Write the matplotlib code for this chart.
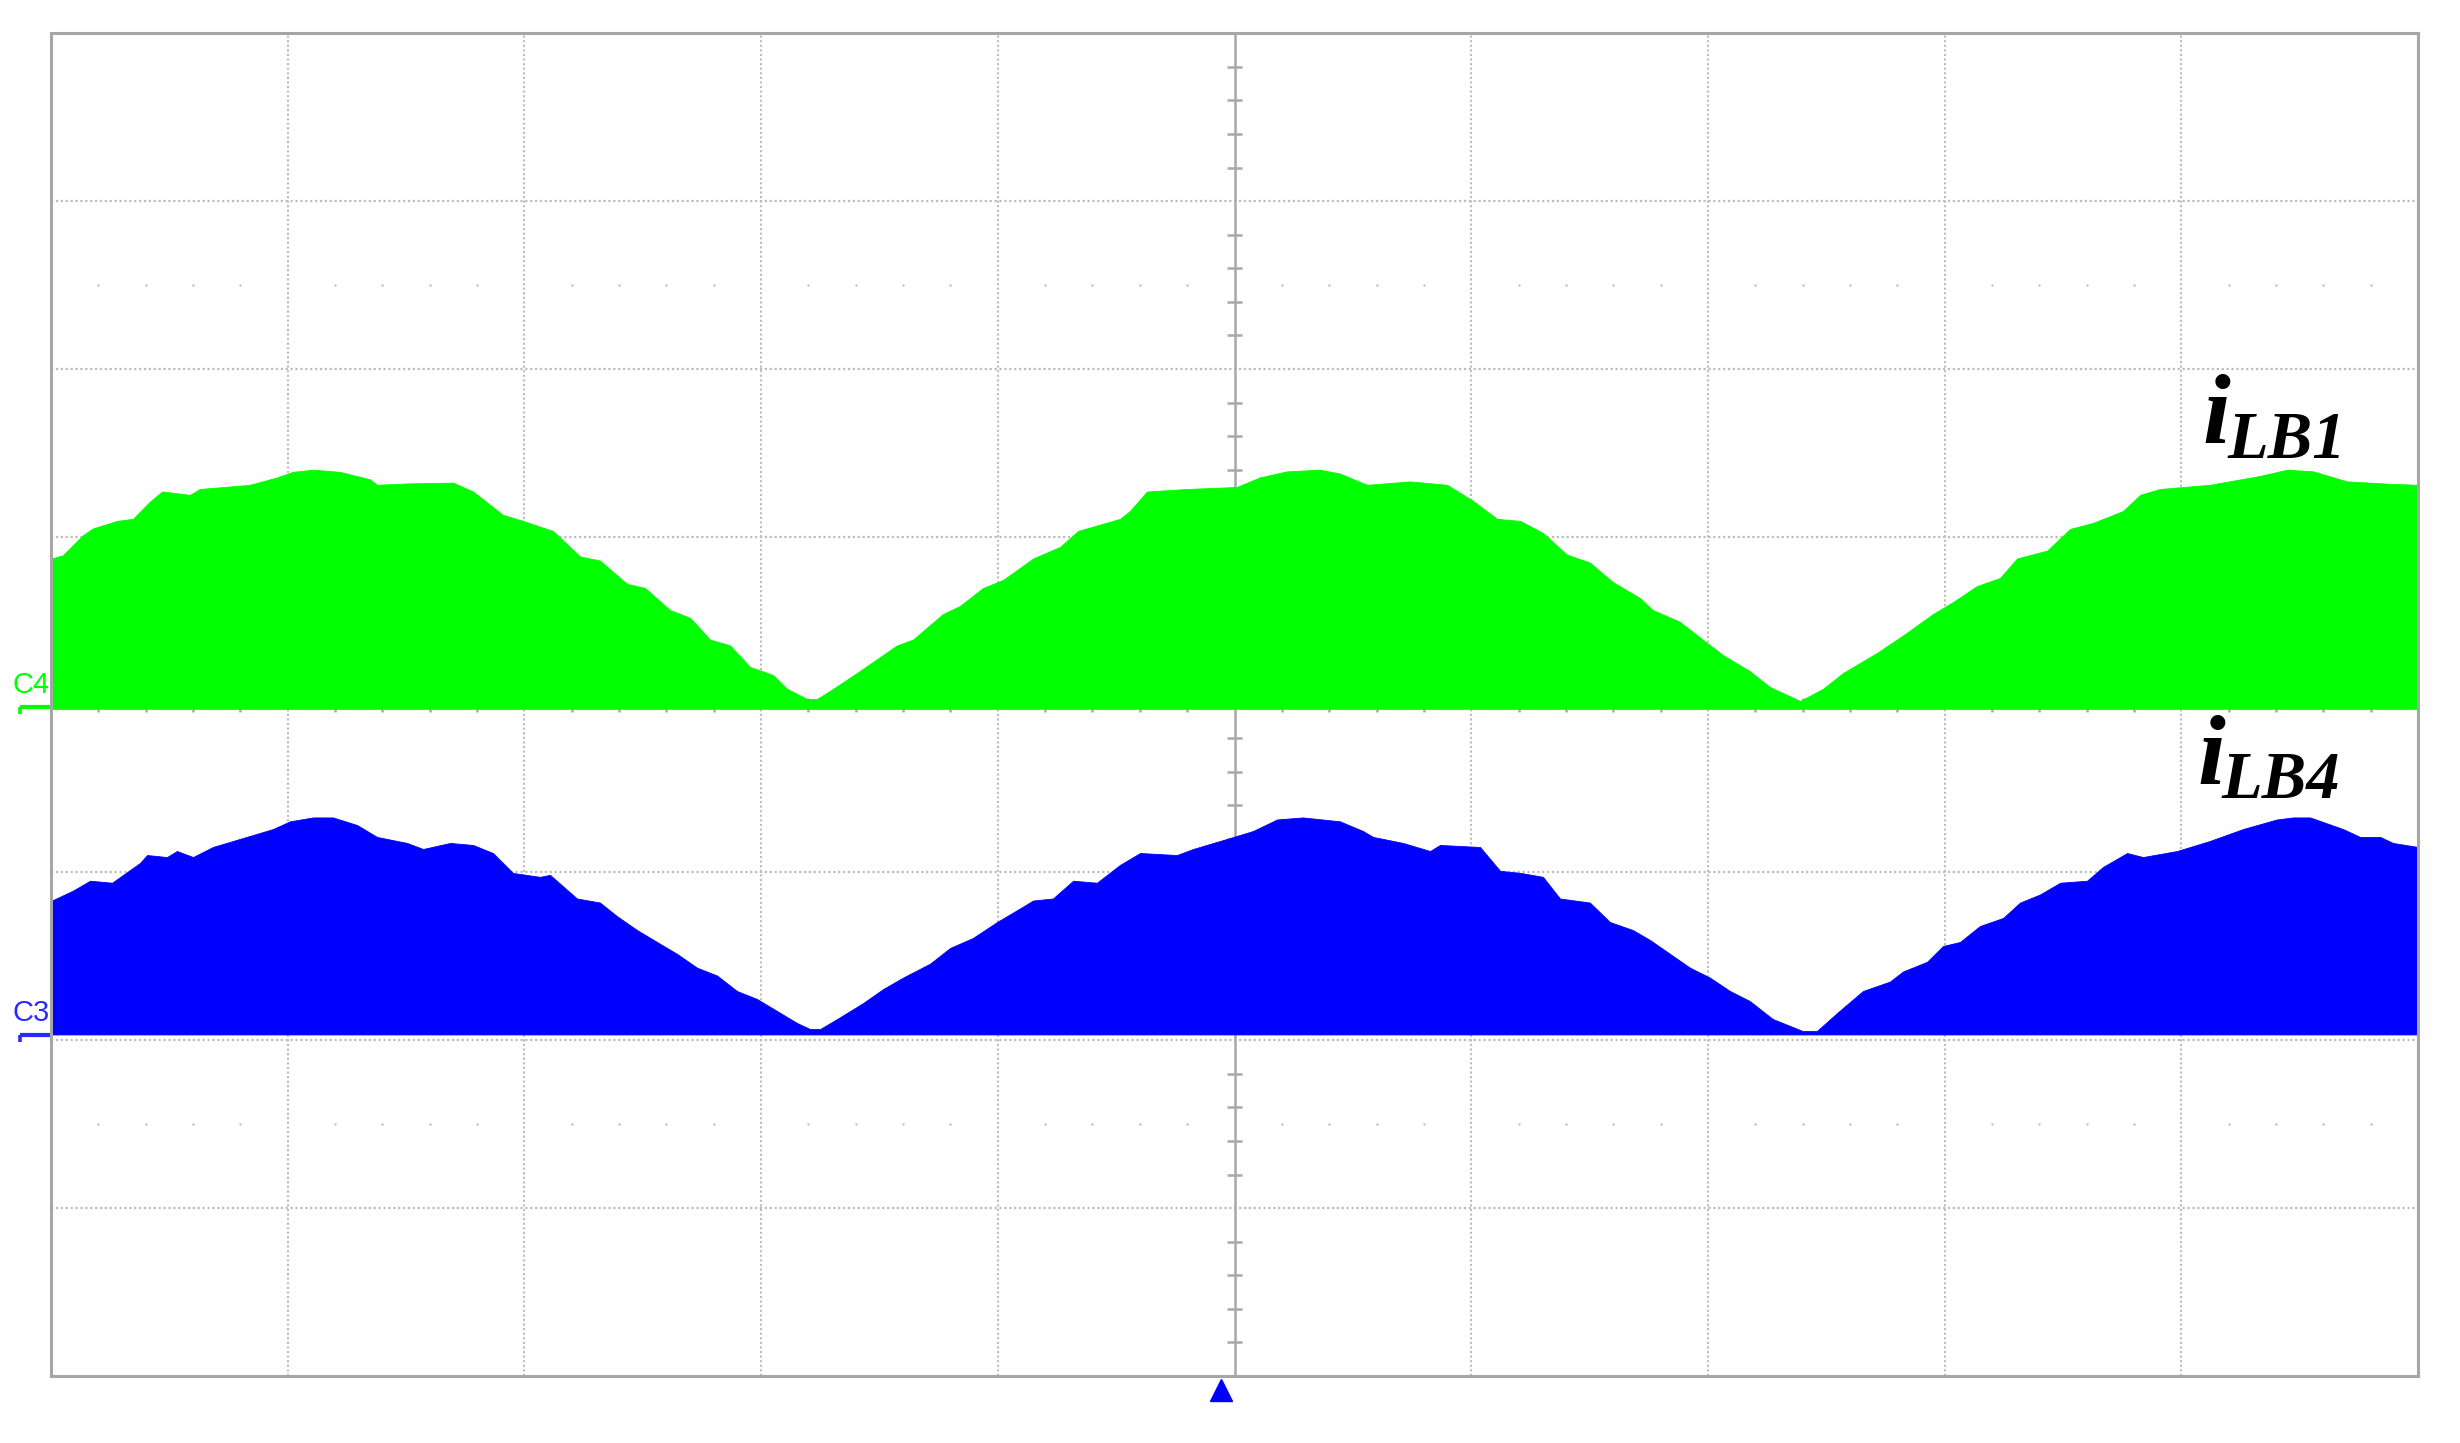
import numpy as np
import matplotlib
matplotlib.use("Agg")
import matplotlib.pyplot as plt
from matplotlib.transforms import blended_transform_factory

# ---------------- data (screen divisions; x: 0..10 div, y: -4..4 div) ----------------
c4_ground = -0.015   # channel 4 (green) ground level
c3_ground = -1.97    # channel 3 (blue) ground level

ilb1_t = [0.00, 0.05, 0.135, 0.177, 0.279, 0.346, 0.418, 0.469, 0.587, 0.629,
          0.841, 0.955, 1.022, 1.107, 1.221, 1.348, 1.377, 1.504, 1.698, 1.783,
          1.91, 1.994, 2.066, 2.121, 2.235, 2.319, 2.433, 2.51, 2.615, 2.70,
          2.784, 2.869, 2.953, 3.05, 3.11, 3.194, 3.236, 3.291, 3.405, 3.574,
          3.642, 3.768, 3.84, 3.937, 4.022, 4.094, 4.149, 4.263, 4.339, 4.516,
          4.558, 4.63, 4.799, 5.01, 5.107, 5.221, 5.361, 5.445, 5.56, 5.741,
          5.898, 6.008, 6.109, 6.206, 6.303, 6.404, 6.501, 6.598, 6.712, 6.767,
          6.881, 6.978, 7.063, 7.177, 7.262, 7.389, 7.486, 7.571, 7.714, 7.824,
          7.951, 8.036, 8.137, 8.234, 8.306, 8.433, 8.53, 8.627, 8.754, 8.826,
          8.91, 9.121, 9.333, 9.447, 9.557, 9.70, 9.894, 10.0]
ilb1_top = [0.87, 0.89, 1.01, 1.05, 1.095, 1.107, 1.21, 1.27, 1.25, 1.285,
            1.31, 1.354, 1.387, 1.40, 1.387, 1.342, 1.31, 1.318, 1.323, 1.27,
            1.13, 1.095, 1.06, 1.035, 0.883, 0.859, 0.72, 0.695, 0.564, 0.517,
            0.388, 0.353, 0.225, 0.177, 0.094, 0.034, 0.034, 0.082, 0.189, 0.353,
            0.388, 0.54, 0.588, 0.695, 0.743, 0.815, 0.871, 0.94, 1.035, 1.107,
            1.154, 1.27, 1.285, 1.297, 1.354, 1.39, 1.40, 1.377, 1.31, 1.33,
            1.31, 1.214, 1.107, 1.095, 1.023, 0.894, 0.847, 0.731, 0.636, 0.564,
            0.494, 0.388, 0.296, 0.20, 0.105, 0.022, 0.094, 0.189, 0.308, 0.412,
            0.54, 0.612, 0.707, 0.755, 0.871, 0.918, 1.047, 1.083, 1.154, 1.25,
            1.285, 1.31, 1.363, 1.40, 1.39, 1.33, 1.315, 1.31]

ilb4_t = [0.004, 0.093, 0.165, 0.258, 0.376, 0.406, 0.49, 0.532, 0.60, 0.684,
          0.798, 0.938, 1.01, 1.107, 1.191, 1.293, 1.377, 1.504, 1.572, 1.686,
          1.783, 1.867, 1.952, 2.066, 2.108, 2.222, 2.319, 2.391, 2.476, 2.56,
          2.645, 2.729, 2.814, 2.898, 2.983, 3.067, 3.152, 3.207, 3.249, 3.321,
          3.431, 3.515, 3.60, 3.714, 3.798, 3.895, 3.997, 4.094, 4.149, 4.233,
          4.318, 4.419, 4.516, 4.601, 4.757, 4.825, 4.968, 5.078, 5.18, 5.289,
          5.445, 5.543, 5.585, 5.712, 5.826, 5.868, 6.037, 6.122, 6.206, 6.303,
          6.375, 6.501, 6.586, 6.683, 6.755, 6.84, 6.924, 7.008, 7.093, 7.177,
          7.274, 7.359, 7.401, 7.46, 7.545, 7.655, 7.769, 7.824, 7.926, 7.993,
          8.065, 8.149, 8.247, 8.319, 8.403, 8.488, 8.602, 8.669, 8.771, 8.838,
          8.982, 9.121, 9.261, 9.404, 9.472, 9.544, 9.683, 9.755, 9.84, 9.894,
          10.0]
ilb4_top = [-1.167, -1.108, -1.049, -1.061, -0.943, -0.896, -0.908, -0.872, -0.908, -0.848,
            -0.80, -0.741, -0.695, -0.672, -0.672, -0.717, -0.788, -0.824, -0.86, -0.824,
            -0.836, -0.884, -1.003, -1.026, -1.014, -1.155, -1.179, -1.26, -1.343, -1.414,
            -1.485, -1.567, -1.614, -1.706, -1.754, -1.825, -1.897, -1.933, -1.933, -1.873,
            -1.778, -1.695, -1.626, -1.543, -1.45, -1.39, -1.295, -1.214, -1.167, -1.155,
            -1.049, -1.061, -0.955, -0.884, -0.896, -0.86, -0.80, -0.753, -0.684, -0.672,
            -0.695, -0.753, -0.788, -0.824, -0.872, -0.836, -0.848, -0.99, -1.002, -1.026,
            -1.155, -1.179, -1.295, -1.343, -1.402, -1.485, -1.567, -1.626, -1.706, -1.766,
            -1.873, -1.921, -1.945, -1.945, -1.838, -1.706, -1.65, -1.59, -1.532, -1.438,
            -1.414, -1.319, -1.271, -1.179, -1.131, -1.061, -1.049, -0.967, -0.884, -0.908,
            -0.872, -0.812, -0.741, -0.684, -0.672, -0.672, -0.741, -0.788, -0.788, -0.824,
            -0.848]

trigger_t = 4.943
labels = {"ilb1": ("i", "LB1"), "ilb4": ("i", "LB4")}

# ---------------- figure ----------------
W, H = 2460, 1443
fig = plt.figure(figsize=(W / 100, H / 100), dpi=100)
ax = fig.add_axes([51 / W, (H - 1376) / H, 2367 / W, 1342.7 / H])
ax.set_xlim(0, 10)
ax.set_ylim(-4, 4)
ax.set_xticks([])
ax.set_yticks([])
for sp in ax.spines.values():
    sp.set_color("#a6a6a6")
    sp.set_linewidth(2.2)
    sp.set_zorder(10)

grid_col = "#bcbcbc"
dot_ls = (0, (1.0, 1.2))
for xv in range(1, 10):
    if xv != 5:
        ax.axvline(xv, color=grid_col, lw=1.5, ls=dot_ls, zorder=1)
for yv in range(-3, 4):
    if yv != 0:
        ax.axhline(yv, color=grid_col, lw=1.6, ls=dot_ls, zorder=1)

# centre cross with minor ticks
ax.axvline(5, color="#a8a8a8", lw=1.8, zorder=1.5)
ax.axhline(0, color="#a8a8a8", lw=1.8, zorder=1.5)
minor_y = [v for v in np.round(np.arange(-3.8, 4.0, 0.2), 2) if abs(v - round(v)) > 1e-6]
ax.hlines(minor_y, 5 - 0.03, 5 + 0.03, color="#a8a8a8", lw=1.8, zorder=1.5)
minor_x = [v for v in np.round(np.arange(0.2, 10.0, 0.2), 2) if abs(v - round(v)) > 1e-6]
ax.vlines(minor_x, -0.042, 0.042, color="#a8a8a8", lw=1.8, zorder=1.5)

# dotted rows at +/-2.5 div
for yr in (2.5, -2.5):
    ax.plot(minor_x, [yr] * len(minor_x), ls="none", marker="s", ms=1.5,
            mec="none", mfc="#b4b4b4", zorder=1)

# ---------------- traces ----------------
green = "#00ff00"
blue = "#0000ff"
ax.fill_between(ilb1_t, c4_ground - 0.01, ilb1_top, color=green, lw=0.6, ec=green, zorder=3)
ax.fill_between(ilb4_t, c3_ground + 0.005, ilb4_top, color=blue, lw=0.6, ec=blue, zorder=3)

# ---------------- channel markers ----------------
tr = blended_transform_factory(ax.transAxes, ax.transData)
for g, col, name in ((c4_ground, green, "C4"), (c3_ground, "#2a2aff", "C3")):
    ax.plot([-0.0131, -0.0004], [g, g], transform=tr, color=col, lw=3.0,
            clip_on=False, solid_capstyle="butt", zorder=6)
    ax.plot([-0.0131, -0.0131], [g, g - 0.04], transform=tr, color=col, lw=2.6,
            clip_on=False, solid_capstyle="butt", zorder=6)
    ax.annotate(name, xy=(0, g), xycoords=("axes fraction", "data"),
                xytext=(-38, 14), textcoords="offset pixels",
                ha="left", va="baseline", color=col, fontsize=21,
                family=["Liberation Sans", "DejaVu Sans"], annotation_clip=False)

# trigger marker
trb = blended_transform_factory(ax.transData, ax.transAxes)
ax.plot([trigger_t], [-0.0104], transform=trb, marker="^", ms=16, color=blue,
        mec=blue, clip_on=False, zorder=6)

# ---------------- labels ----------------
serif = ["Liberation Serif", "DejaVu Serif"]
for (main, sub), (xm, ym, xs, ys) in (
        (labels["ilb1"], (9.09, 1.56, 9.197, 1.47)),
        (labels["ilb4"], (9.07, -0.473, 9.17, -0.554))):
    ax.text(xm, ym, main, fontsize=72, fontweight="bold", fontstyle="italic",
            family=serif, ha="left", va="baseline", zorder=7)
    ax.text(xs, ys, sub, fontsize=48, fontweight="bold", fontstyle="italic",
            family=serif, ha="left", va="baseline", zorder=7)

fig.savefig("out.png", dpi=100, facecolor="white")
